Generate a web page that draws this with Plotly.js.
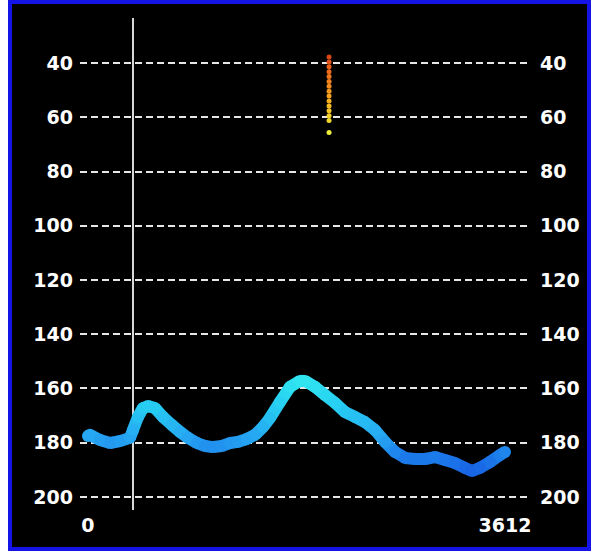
<!DOCTYPE html>
<html>
<head>
<meta charset="utf-8">
<script src="https://cdn.plot.ly/plotly-3.0.1.min.js"></script>
<style>html,body{margin:0;padding:0;background:#fff;}#chart{width:591px;height:557px;}</style>
</head>
<body>
<div id="chart"></div>
<script>
// ---- data ----
var lineX = [0, 17, 104, 191, 277, 364, 390, 433, 476, 520, 580, 650, 728, 797, 866, 944, 1013, 1083, 1161, 1230, 1299, 1377, 1447, 1516, 1576, 1663, 1750, 1836, 1880, 1966, 2053, 2140, 2226, 2313, 2399, 2486, 2573, 2659, 2746, 2832, 2919, 3006, 3092, 3179, 3266, 3326, 3395, 3482, 3569, 3612];
var lineY = [177.5, 177.1, 179.0, 180.1, 179.4, 178.2, 175.3, 170.5, 167.2, 166.5, 167.2, 170.5, 173.5, 176.0, 178.2, 180.1, 181.2, 181.6, 181.2, 180.1, 179.7, 178.6, 177.1, 174.2, 170.9, 165.0, 159.4, 157.2, 157.2, 159.4, 162.4, 165.3, 168.7, 170.5, 172.4, 175.3, 179.7, 183.4, 185.6, 186.0, 186.0, 185.3, 186.4, 187.5, 189.3, 190.4, 189.3, 187.1, 184.5, 183.4];
var dotX = [2088, 2088, 2088, 2088, 2088, 2088, 2088, 2088, 2088, 2088, 2088, 2088, 2088, 2088, 2088];
var dotY = [37.8, 39.6, 41.4, 43.2, 45.0, 46.8, 48.6, 50.4, 52.2, 54.0, 55.8, 57.6, 59.4, 61.2, 65.6];
var markerX = 390;
var yTicks = [40, 60, 80, 100, 120, 140, 160, 180, 200];
var xTickVals = [0, 3612];
var xTickText = ['0', '3612'];

// ---- colour helpers ----
function interp(stops, v) {
  if (v <= stops[0][0]) return stops[0][1];
  for (var i = 1; i < stops.length; i++) {
    if (v <= stops[i][0]) {
      var a = stops[i-1], b = stops[i], t = (v - a[0]) / (b[0] - a[0]);
      return a[1].map(function (ch, k) { return Math.round(ch + (b[1][k] - ch) * t); });
    }
  }
  return stops[stops.length-1][1];
}
function rgb(c) { return 'rgb(' + c.join(',') + ')'; }
var blueStops = [[156, [50, 232, 240]], [167, [38, 204, 242]], [178, [38, 166, 242]], [185, [28, 124, 234]], [191, [24, 98, 228]]];
var hotStops = [[37, [215, 65, 20]], [44, [240, 110, 30]], [51, [245, 155, 30]], [58, [245, 200, 35]], [66, [235, 240, 60]]];

var traces = [];
for (var i = 0; i < lineX.length - 1; i++) {
  traces.push({
    x: [lineX[i], lineX[i+1]], y: [lineY[i], lineY[i+1]],
    mode: 'lines', type: 'scatter', hoverinfo: 'skip', showlegend: false,
    line: {color: rgb(interp(blueStops, (lineY[i] + lineY[i+1]) / 2)), width: 12}
  });
}
traces.push({
  x: lineX, y: lineY, mode: 'markers', type: 'scatter', showlegend: false,
  marker: {size: 12, color: lineY.map(function (v) { return rgb(interp(blueStops, v)); }), line: {width: 0}}
});
traces.push({
  x: dotX, y: dotY, mode: 'markers', type: 'scatter', showlegend: false, yaxis: 'y2',
  marker: {size: 5, color: dotY.map(function (v) { return rgb(interp(hotStops, v)); }), line: {width: 0}}
});

var tickFont = {family: 'DejaVu Sans, sans-serif', size: 19, color: '#ffffff', weight: 'bold'};
var yRange = [204.8, 23.4];

var layout = {
  width: 591, height: 557,
  margin: {l: 80, r: 60, t: 18, b: 47, pad: 0},
  paper_bgcolor: '#ffffff',
  plot_bgcolor: 'rgba(0,0,0,0)',
  showlegend: false,
  xaxis: {
    range: [-69, 3837], tickvals: xTickVals, ticktext: xTickText,
    showgrid: false, zeroline: false, showline: false, ticks: '',
    tickfont: tickFont, ticklabelstandoff: 2, fixedrange: true
  },
  yaxis: {
    range: yRange, autorange: false, tickvals: yTicks,
    showgrid: true, gridcolor: '#e6e6e6', gridwidth: 2, griddash: '7px,4px',
    zeroline: false, showline: false, ticks: '',
    tickfont: tickFont, ticklabelstandoff: 6
  },
  yaxis2: {
    range: yRange, autorange: false, tickvals: yTicks, overlaying: 'y', side: 'right',
    showgrid: false, zeroline: false, showline: false, ticks: '',
    tickfont: tickFont, ticklabelstandoff: 8
  },
  shapes: [
    {type: 'rect', xref: 'paper', yref: 'paper', x0: -0.1552, x1: 1.1286, y0: -0.0793, y1: 1.0325,
     layer: 'below', fillcolor: '#000000', line: {color: '#1414e6', width: 4}},
    {type: 'line', xref: 'x', yref: 'paper', x0: markerX, x1: markerX, y0: 0, y1: 1,
     layer: 'below', line: {color: '#d8d8d8', width: 2}}
  ]
};

Plotly.newPlot('chart', traces, layout, {staticPlot: true, displayModeBar: false});
</script>
</body>
</html>
